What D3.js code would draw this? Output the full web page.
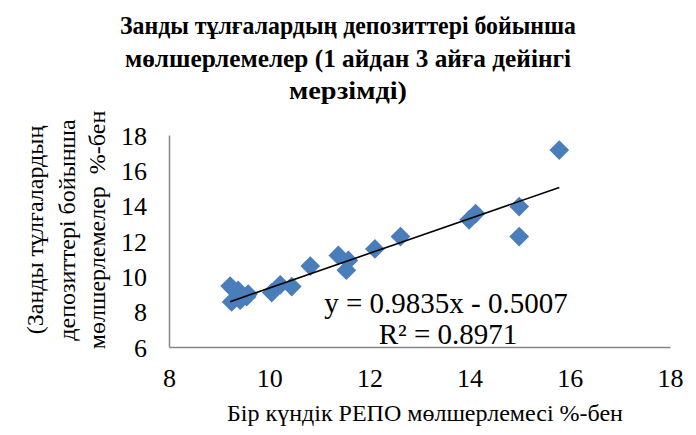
<!DOCTYPE html>
<html>
<head>
<meta charset="utf-8">
<script src="https://cdn.jsdelivr.net/npm/d3@7"></script>
<style>
  html, body { margin: 0; padding: 0; background: #fff; }
  svg { display: block; }
  text { font-family: "Times New Roman", "Liberation Serif", serif; fill: #000; white-space: pre; }
</style>
</head>
<body>
<svg id="chart" width="696" height="435"></svg>
<script>
// ---- data ----
const titleLines = ["Занды тұлғалардың депозиттері бойынша", "мөлшерлемелер (1 айдан 3 айға дейінгі", "мерзімді)"];
const yTitleLines = ["(Занды тұлғалардың", "депозиттері бойынша", "мөлшерлемелер  %-бен"];
const xTitle = "Бір күндік РЕПО мөлшерлемесі %-бен";
const xTicks = [8, 10, 12, 14, 16, 18];
const yTicks = [6, 8, 10, 12, 14, 16, 18];
const repoRate = [15.79, 14.99, 14.99, 14.12, 13.99, 12.62, 12.11, 11.38, 11.58, 11.54, 10.82, 10.22, 10.45, 10.05, 9.22, 9.38, 9.58, 9.25, 9.42, 9.55];
const depositRate = [17.15, 13.95, 12.25, 13.55, 13.2, 12.25, 11.55, 11.18, 10.9, 10.35, 10.58, 9.52, 9.42, 9.08, 9.45, 9.2, 9.0, 8.55, 8.65, 8.85];
const slope = 0.9835, intercept = -0.5007;
const eqText = "y = 0.9835x - 0.5007";
const r2Text = "R² = 0.8971";

// ---- layout ----
const svg = d3.select("#chart");
const plotL = 169, plotR = 670, plotT = 135, plotB = 347;
const x = d3.scaleLinear().domain([8, 18]).range([plotL, plotR]);
const y = d3.scaleLinear().domain([6, 18]).range([plotB, plotT]);

function addText(g, tx, ty, str, size, anchor, weight, rotate) {
  const t = g.append("text")
    .attr("transform", rotate ? `translate(${tx},${ty}) rotate(-90)` : `translate(${tx},${ty})`)
    .attr("text-anchor", anchor)
    .style("font-size", size + "px")
    .text(str);
  if (weight) t.style("font-weight", weight);
  return t;
}

// title
const titleY = [34, 67, 99];
const titleW = [456, 446, 118];
titleLines.forEach((s, i) => addText(svg, 348, titleY[i], s, 25.5, "middle", "bold", false)
  .attr("textLength", titleW[i]).attr("lengthAdjust", "spacingAndGlyphs"));

// axes
const xAxis = d3.axisBottom(x).tickValues(xTicks).tickSize(0).tickPadding(0);
const yAxis = d3.axisLeft(y).tickValues(yTicks).tickSize(0).tickPadding(0);
const gx = svg.append("g").attr("transform", `translate(0,${plotB})`).call(xAxis);
const gy = svg.append("g").attr("transform", `translate(${plotL},0)`).call(yAxis);
[gx, gy].forEach(g => {
  g.select(".domain").attr("stroke", "#868686").attr("stroke-width", 1.5);
  g.selectAll("text").remove();
});
gx.selectAll(".tick").each(function (d) {
  addText(d3.select(this), 0, 40, String(d), 26, "middle", null, false);
});
gy.selectAll(".tick").each(function (d) {
  addText(d3.select(this), -22, 9, String(d), 26, "end", null, false);
});

// axis titles
addText(svg, 425, 421, xTitle, 24, "middle", null, false);
const yTitleX = [43, 75, 105];
yTitleLines.forEach((s, i) => addText(svg, yTitleX[i], 230, s, 24, "middle", null, true));

// points
const pts = repoRate.map((v, i) => [v, depositRate[i]]);
const diamond = d3.symbol().type(d3.symbolSquare).size(195);
svg.append("g").selectAll("path").data(pts).join("path")
  .attr("d", diamond)
  .attr("transform", d => `translate(${x(d[0])},${y(d[1])}) rotate(45)`)
  .attr("fill", "#4A7EBB");

// trendline
const xr = d3.extent(repoRate);
svg.append("line")
  .attr("x1", x(xr[0])).attr("y1", y(slope * xr[0] + intercept))
  .attr("x2", x(xr[1])).attr("y2", y(slope * xr[1] + intercept))
  .attr("stroke", "#000").attr("stroke-width", 1.6);

// equation labels
addText(svg, 446, 313, eqText, 29, "middle", null, false);
addText(svg, 448, 344, r2Text, 29, "middle", null, false);
</script>
</body>
</html>
